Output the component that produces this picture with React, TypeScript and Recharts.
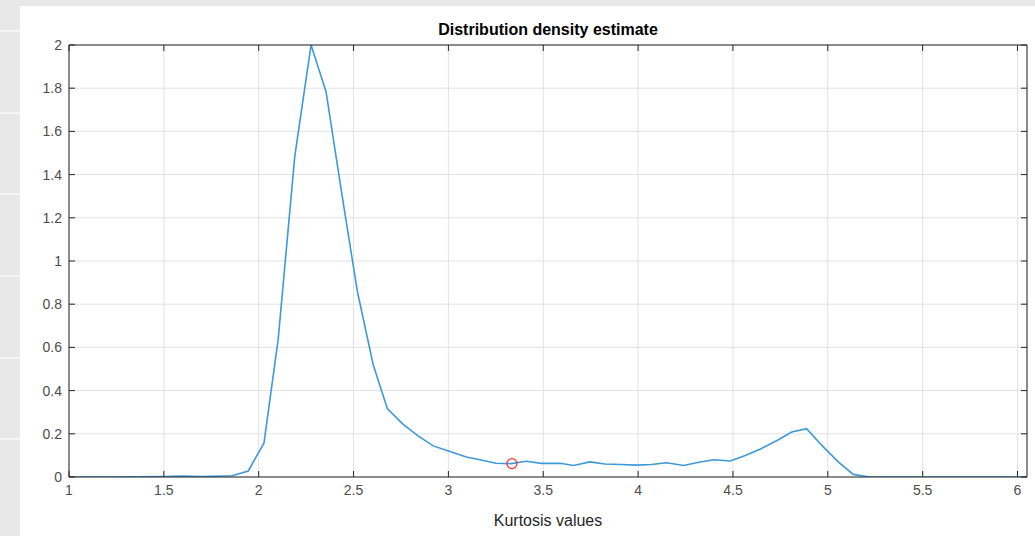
import { CartesianGrid, ComposedChart, Line, Scatter, XAxis, YAxis } from 'recharts';

// density curve
const kurtosis = [
  1.0, 1.2, 1.5, 1.6, 1.7, 1.86, 1.945, 2.028, 2.103, 2.19, 2.276, 2.355, 2.44, 2.52,
  2.604, 2.678, 2.76, 2.84, 2.92, 3.0, 3.095, 3.166, 3.25, 3.33, 3.41, 3.49, 3.589,
  3.66, 3.746, 3.825, 3.91, 3.99, 4.07, 4.15, 4.24, 4.32, 4.4, 4.486, 4.565, 4.645,
  4.73, 4.81, 4.888, 4.97, 5.055, 5.134, 5.22, 6.05,
];
const density = [
  0, 0, 0.002, 0.004, 0.002, 0.006, 0.028, 0.158, 0.64, 1.483, 2.0, 1.784, 1.3, 0.86,
  0.518, 0.317, 0.245, 0.19, 0.144, 0.12, 0.093, 0.08, 0.064, 0.062, 0.073, 0.063, 0.064,
  0.053, 0.07, 0.06, 0.058, 0.055, 0.058, 0.066, 0.053, 0.068, 0.08, 0.074, 0.1, 0.13,
  0.168, 0.208, 0.224, 0.145, 0.07, 0.012, 0, 0,
];
const markerX = [3.335];
const markerY = [0.062];

const xTicks = [1, 1.5, 2, 2.5, 3, 3.5, 4, 4.5, 5, 5.5, 6];
const yTicks = [0, 0.2, 0.4, 0.6, 0.8, 1, 1.2, 1.4, 1.6, 1.8, 2];
const xDomain: [number, number] = [1, 6.05];
const yDomain: [number, number] = [0, 2];

const curve = kurtosis.map((x, i) => ({ x, y: density[i] }));
const marker = markerX.map((x, i) => ({ x, y: markerY[i] }));

const axisColor = '#262626';
const labelColor = '#4d4d4d';
const font = '"Liberation Sans", Arial, Helvetica, sans-serif';

function BottomTick({ x, y, payload }: any) {
  return (
    <g>
      <line x1={x} y1={y} x2={x} y2={y - 6} stroke={axisColor} />
      <text x={x} y={y + 18} textAnchor="middle" fill={labelColor} fontSize={14} fontFamily={font}>
        {payload.value}
      </text>
    </g>
  );
}

function TopTick({ x, y }: any) {
  return <line x1={x} y1={y} x2={x} y2={y + 6} stroke={axisColor} />;
}

function LeftTick({ x, y, payload }: any) {
  return (
    <g>
      <line x1={x} y1={y} x2={x + 6} y2={y} stroke={axisColor} />
      <text x={x - 7} y={y + 5} textAnchor="end" fill={labelColor} fontSize={14} fontFamily={font}>
        {payload.value}
      </text>
    </g>
  );
}

function RightTick({ x, y }: any) {
  return <line x1={x} y1={y} x2={x - 6} y2={y} stroke={axisColor} />;
}

function RingMarker({ cx, cy }: any) {
  return <circle cx={cx} cy={cy} r={5} fill="none" stroke="#ff2a2a" strokeWidth={1.2} />;
}

const stripes = [30, 112, 193, 275, 357, 438];

export default function App() {
  return (
    <div style={{ position: 'absolute', left: 0, top: 0, width: 1035, height: 536, background: '#e8e8e8', overflow: 'hidden' }}>
      {stripes.map((s) => (
        <div key={s} style={{ position: 'absolute', left: 0, top: s, width: 20, height: 2, background: '#f4f4f4' }} />
      ))}
      <div style={{ position: 'absolute', left: 20, top: 6, width: 1015, height: 530, background: '#ffffff' }} />
      <div
        style={{
          position: 'absolute', left: 69, width: 958, top: 21, textAlign: 'center',
          fontFamily: font, fontWeight: 700, fontSize: 16, color: '#000',
        }}
      >
        Distribution density estimate
      </div>
      <div
        style={{
          position: 'absolute', left: 69, width: 958, top: 512, textAlign: 'center',
          fontFamily: font, fontSize: 16, color: axisColor,
        }}
      >
        Kurtosis values
      </div>
      <div style={{ position: 'absolute', left: 0, top: 0 }}>
        <ComposedChart width={1035} height={536} margin={{ top: 44, right: 7, bottom: 0, left: 0 }}>
          <CartesianGrid stroke="#e2e2e2" />
          <XAxis
            dataKey="x"
            type="number"
            domain={xDomain}
            ticks={xTicks}
            allowDataOverflow
            height={59}
            stroke={axisColor}
            tickLine={false}
            tickSize={0}
            tickMargin={0}
            tick={<BottomTick />}
            interval={0}
          />
          <XAxis
            xAxisId="top"
            dataKey="x"
            orientation="top"
            type="number"
            domain={xDomain}
            ticks={xTicks}
            allowDataOverflow
            height={1}
            stroke={axisColor}
            tickLine={false}
            tickSize={0}
            tickMargin={0}
            tick={<TopTick />}
            interval={0}
          />
          <YAxis
            type="number"
            domain={yDomain}
            ticks={yTicks}
            allowDataOverflow
            width={69}
            stroke={axisColor}
            tickLine={false}
            tickSize={0}
            tickMargin={0}
            tick={<LeftTick />}
            interval={0}
          />
          <YAxis
            yAxisId="right"
            orientation="right"
            type="number"
            domain={yDomain}
            ticks={yTicks}
            allowDataOverflow
            width={1}
            stroke={axisColor}
            tickLine={false}
            tickSize={0}
            tickMargin={0}
            tick={<RightTick />}
            interval={0}
          />
          <Line
            data={curve}
            dataKey="y"
            type="linear"
            stroke="#3d9ad9"
            strokeWidth={1.6}
            dot={false}
            activeDot={false}
            isAnimationActive={false}
          />
          <Scatter
            data={marker}
            dataKey="y"
            xAxisId="top"
            yAxisId="right"
            shape={<RingMarker />}
            isAnimationActive={false}
          />
        </ComposedChart>
      </div>
    </div>
  );
}
